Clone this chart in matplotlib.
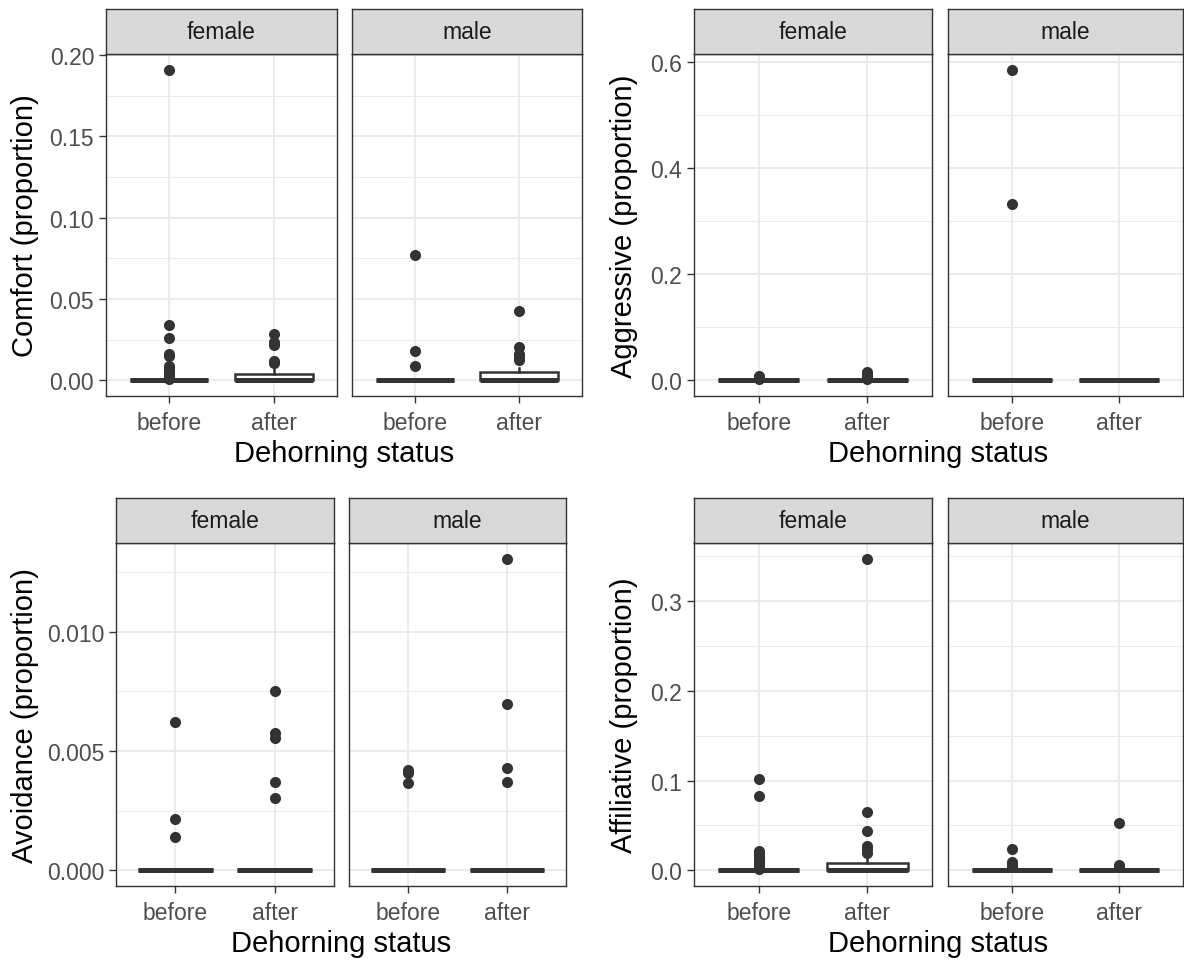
import numpy as np
import matplotlib.pyplot as plt
from matplotlib.ticker import MultipleLocator, FormatStrFormatter

plt.rcParams['font.family'] = ['Liberation Sans', 'DejaVu Sans']

W, H, DPI = 1184, 962, 100

statuses = ['before', 'after']
sexes = ['female', 'male']

# box stats, order: female-before, female-after, male-before, male-after
# (q1 and median are 0 everywhere, lower whisker 0)
comfort_q3 = [0, 0.004, 0, 0.005]
comfort_whishi = [0, 0.0075, 0, 0.0075]
comfort_fliers = [
    [0.191, 0.034, 0.026, 0.0165, 0.015, 0.009, 0.008, 0.007, 0.006, 0.005, 0.004, 0.003, 0.002, 0.001],
    [0.0283, 0.0235, 0.0218, 0.0118, 0.0106],
    [0.077, 0.0183, 0.0088],
    [0.0428, 0.0208, 0.0165, 0.0145, 0.0128],
]

aggressive_q3 = [0, 0, 0, 0]
aggressive_whishi = [0, 0, 0, 0]
aggressive_fliers = [
    [0.009, 0.006, 0.004, 0.002],
    [0.015, 0.012, 0.009, 0.005, 0.003],
    [0.586, 0.333],
    [],
]

avoidance_q3 = [0, 0, 0, 0]
avoidance_whishi = [0, 0, 0, 0]
avoidance_fliers = [
    [0.0062, 0.00216, 0.00138],
    [0.00753, 0.00574, 0.00556, 0.00372, 0.00302],
    [0.00421, 0.00407, 0.00365],
    [0.01307, 0.00696, 0.00428, 0.00369],
]

affiliative_q3 = [0, 0.0085, 0, 0]
affiliative_whishi = [0, 0.013, 0, 0]
affiliative_fliers = [
    [0.102, 0.083, 0.022, 0.020, 0.018, 0.016, 0.014, 0.012, 0.010, 0.008, 0.006, 0.004, 0.002],
    [0.347, 0.0655, 0.0444, 0.027, 0.0235, 0.0195],
    [0.0237, 0.0095, 0.007, 0.005],
    [0.0526, 0.0065, 0.004],
]

GRID = '#EBEBEB'
DARK = '#333333'

fig = plt.figure(figsize=(W / DPI, H / DPI), dpi=DPI)


def px_axes(x0, x1, y0, y1):
    return fig.add_axes([x0 / W, 1 - y1 / H, (x1 - x0) / W, (y1 - y0) / H])


def draw_group(name, q3, whishi, fliers, step, fmt, panels, y_top, y_bot, strip_top, label_x, xlab_y):
    ymax = max(max(max(f) if f else 0 for f in fliers), max(whishi))
    ylim = (-0.05 * ymax, 1.05 * ymax)
    for s, (x0, x1) in enumerate(panels):
        ax = px_axes(x0, x1, y_top, y_bot)
        stats = []
        for k in range(2):
            i = s * 2 + k
            stats.append(dict(med=0, q1=0, q3=q3[i], whislo=0, whishi=whishi[i], fliers=fliers[i]))
        ax.bxp(stats, positions=[1, 2], widths=0.75, showcaps=False, patch_artist=True,
               boxprops=dict(facecolor='white', edgecolor=DARK, linewidth=1.8),
               whiskerprops=dict(color=DARK, linewidth=1.8),
               medianprops=dict(color=DARK, linewidth=3.6, solid_capstyle='butt'),
               flierprops=dict(marker='o', markersize=8, markerfacecolor=DARK,
                               markeredgecolor=DARK, markeredgewidth=0))
        ax.set_xlim(0.4, 2.6)
        ax.set_ylim(*ylim)
        ax.set_xticks([1, 2])
        ax.set_xticklabels(statuses)
        ax.yaxis.set_major_locator(MultipleLocator(step))
        ax.yaxis.set_minor_locator(MultipleLocator(step / 2))
        ax.yaxis.set_major_formatter(FormatStrFormatter(fmt))
        ax.grid(True, which='major', color=GRID, linewidth=1.4)
        ax.grid(True, which='minor', axis='y', color=GRID, linewidth=0.7)
        ax.set_axisbelow(True)
        for sp in ax.spines.values():
            sp.set_color(DARK)
            sp.set_linewidth(1.0)
        ax.tick_params(axis='both', which='major', length=5, width=1.0, color=DARK,
                       labelcolor='#4D4D4D', labelsize=16.5, pad=3.5)
        ax.tick_params(axis='x', which='major', pad=5.5)
        ax.tick_params(axis='y', which='minor', length=0)
        if s == 1:
            ax.tick_params(axis='y', which='both', left=False, labelleft=False)

        st = px_axes(x0, x1, strip_top, y_top)
        st.set_facecolor('#D9D9D9')
        st.set_xticks([])
        st.set_yticks([])
        for sp in st.spines.values():
            sp.set_color(DARK)
            sp.set_linewidth(1.0)
        st.text(0.5, 0.5, sexes[s], ha='center', va='center', fontsize=16.5,
                color='#1A1A1A', transform=st.transAxes)

    yc = 1 - (y_top + y_bot) / 2 / H
    fig.text(label_x / W, yc, name, rotation=90, ha='center', va='center', fontsize=21)
    xc = (panels[0][0] + panels[1][1]) / 2 / W
    fig.text(xc, 1 - xlab_y / H, 'Dehorning status', ha='center', va='center', fontsize=21)


draw_group('Comfort (proportion)', comfort_q3, comfort_whishi, comfort_fliers, 0.05, '%.2f',
           [(106, 337), (352, 582)], 55, 397, 10, 25, 454)
draw_group('Aggressive (proportion)', aggressive_q3, aggressive_whishi, aggressive_fliers, 0.2, '%.1f',
           [(694, 932), (948, 1183)], 55, 397, 10, 624, 454)
draw_group('Avoidance (proportion)', avoidance_q3, avoidance_whishi, avoidance_fliers, 0.005, '%.3f',
           [(116, 334), (349, 566)], 544, 887, 499, 25, 944)
draw_group('Affiliative (proportion)', affiliative_q3, affiliative_whishi, affiliative_fliers, 0.1, '%.1f',
           [(694, 932), (948, 1183)], 544, 887, 499, 624, 944)

fig.savefig('out.png', dpi=DPI, facecolor='white')
